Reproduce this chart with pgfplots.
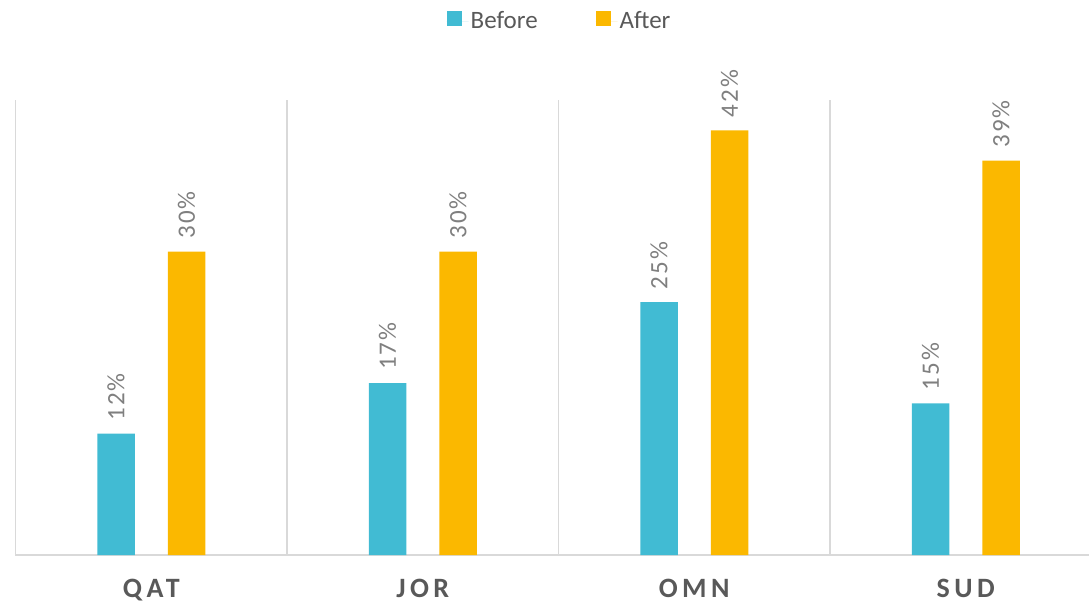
\documentclass[border=0pt]{standalone}
\usepackage{fontspec}
\setmainfont{Carlito}
\newfontfamily\catfont[LetterSpace=16]{Carlito}
\newfontfamily\lblfont[LetterSpace=8]{Carlito}
\usepackage{pgfplots}
\pgfplotsset{compat=1.18}
\definecolor{cteal}{HTML}{41BBD3}
\definecolor{corange}{HTML}{FBB800}
\definecolor{txtgray}{HTML}{595959}
\definecolor{lblgray}{HTML}{7F7F7F}
\definecolor{gridgray}{HTML}{D9D9D9}
\begin{document}
\begin{tikzpicture}
\begin{axis}[
  scale only axis, width=1073.5pt, height=455pt,
  xmin=-0.5, xmax=3.454, ymin=0, ymax=45,
  axis x line*=bottom, axis y line*=left,
  axis line style={draw=gridgray, line width=1.2pt},
  ytick=\empty,
  xtick={0,1,2,3}, xticklabels={QAT,JOR,OMN,SUD},
  major tick length=0pt,
  extra x ticks={0.5,1.5,2.5}, extra x tick labels={},
  extra x tick style={grid=major, major grid style={draw=gridgray,line width=1.2pt}},
  xticklabel style={font=\fontsize{28}{30}\selectfont\catfont\bfseries, text=txtgray, anchor=north, inner sep=0pt, yshift=-24pt},
  ybar, bar width=37.5pt,
  /pgf/number format/assume math mode=true,
  nodes near coords={\pgfmathprintnumber{\pgfplotspointmeta}\%},
  nodes near coords style={font=\fontsize{25}{27}\selectfont\lblfont, text=lblgray, rotate=90, anchor=west, inner xsep=13pt, inner ysep=0pt},
  legend columns=2,
  legend style={draw=none, fill=none, at={(axis description cs:0.5068,1.1736)}, anchor=center,
    font=\fontsize{25}{27}\selectfont, text=txtgray,
    /tikz/every even column/.append style={column sep=56pt}},
  legend image code/.code={\fill[#1] (0pt,-5pt) rectangle (15pt,10pt); \path (0pt,0pt) -- (22pt,0pt);},
]
\addplot[fill=cteal, draw=none, bar shift=-35.25pt] coordinates {(0,12) (1,17) (2,25) (3,15)};
\addlegendentry{Before}
\addplot[fill=corange, draw=none, bar shift=35.25pt] coordinates {(0,30) (1,30) (2,42) (3,39)};
\addlegendentry{After}
\coordinate (sw) at (rel axis cs:0,0);
\end{axis}
\pgfresetboundingbox
\path (sw) ++(-15.5pt,-50pt) rectangle ++(1089pt,605pt);
\end{tikzpicture}
\end{document}
